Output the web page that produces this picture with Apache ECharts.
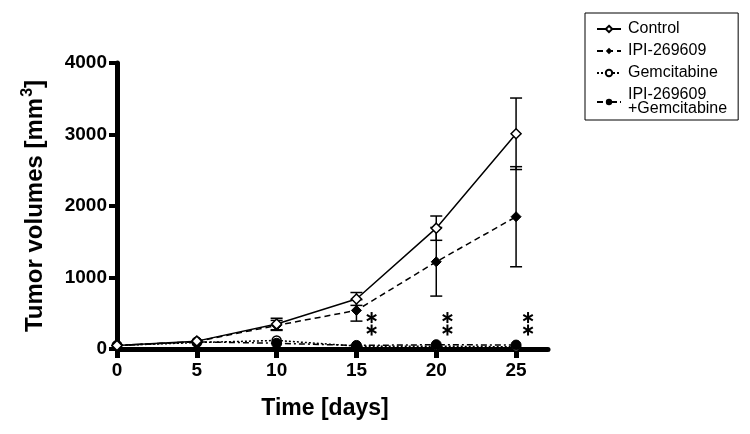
<!DOCTYPE html>
<html>
<head>
<meta charset="utf-8">
<script src="https://cdn.jsdelivr.net/npm/echarts@6/dist/echarts.min.js"></script>
<style>html,body{margin:0;padding:0;background:#fff}#main{width:750px;height:434px}</style>
</head>
<body>
<div id="main"></div>
<script>
// days
var days = [0, 5, 10, 15, 20, 25];
// mean tumour volume per group
var control = [50, 110, 350, 700, 1690, 3010];
var controlErr = [0, 0, 80, 90, 170, 500];
var ipi = [50, 105, 330, 540, 1220, 1850];
var ipiErr = [0, 0, 70, 150, 480, 700];
var gem = [50, 90, 120, 40, 40, 30];
var combo = [50, 100, 80, 50, 60, 55];
// significance marks
var starDays = [15.95, 20.7, 25.75];
var starRows = [440, 265];

var F = 'Arial, "Liberation Sans", sans-serif';

function pairs(ys) {
    return days.map(function (d, i) { return [d, ys[i]]; });
}
function errData(ys, es) {
    return days.map(function (d, i) { return [d, ys[i] - es[i], ys[i] + es[i]]; }).filter(function (r) { return r[2] > r[1]; });
}
function errSeries(ys, es) {
    return {
        type: 'custom',
        data: errData(ys, es),
        z: 1,
        silent: true,
        renderItem: function (params, api) {
            var lo = api.coord([api.value(0), api.value(1)]);
            var hi = api.coord([api.value(0), api.value(2)]);
            var w = 6;
            var st = { stroke: '#000', lineWidth: 1.5 };
            return {
                type: 'group',
                children: [
                    { type: 'line', shape: { x1: lo[0], y1: lo[1], x2: hi[0], y2: hi[1] }, style: st },
                    { type: 'line', shape: { x1: lo[0] - w, y1: lo[1], x2: lo[0] + w, y2: lo[1] }, style: st },
                    { type: 'line', shape: { x1: hi[0] - w, y1: hi[1], x2: hi[0] + w, y2: hi[1] }, style: st }
                ]
            };
        }
    };
}

var stars = [];
starDays.forEach(function (d) { starRows.forEach(function (r) { stars.push([d, r]); }); });

var chart = echarts.init(document.getElementById('main'));
chart.setOption({
    animation: false,
    backgroundColor: '#fff',
    grid: { left: 117, right: 202, top: 63, bottom: 85 },
    legend: {
        orient: 'vertical',
        left: 585,
        top: 13,
        padding: [8, 11, 3, 11],
        itemGap: 6,
        itemWidth: 24,
        itemHeight: 8,
        borderColor: '#000',
        borderWidth: 1,
        textStyle: { fontFamily: F, fontSize: 16, color: '#000', lineHeight: 14, padding: [0, 0, 0, 2] },
        data: ['Control', 'IPI-269609', 'Gemcitabine', 'IPI-269609\n+Gemcitabine']
    },
    xAxis: {
        type: 'value',
        min: 0, max: 27, interval: 5,
        name: 'Time [days]',
        nameLocation: 'middle',
        nameGap: 48,
        nameTextStyle: { fontFamily: F, fontSize: 23, fontWeight: 'bold', color: '#000', padding: [0, 0, 0, -15] },
        axisLine: { lineStyle: { color: '#000', width: 5 } },
        axisTick: { length: 9, lineStyle: { width: 5, color: '#000' }, customValues: days },
        axisLabel: { fontFamily: F, fontSize: 19, fontWeight: 'bold', color: '#000', margin: 12, customValues: days },
        splitLine: { show: false }
    },
    yAxis: {
        type: 'value',
        min: 0, max: 4000, interval: 1000,
        name: 'Tumor volumes [mm{s|3}]',
        nameLocation: 'middle',
        nameGap: 67,
        nameTextStyle: {
            fontFamily: F, fontSize: 24, fontWeight: 'bold', color: '#000',
            rich: { s: { fontFamily: F, fontSize: 16, fontWeight: 'bold', verticalAlign: 'top', padding: [0, 0, 14, 1] } }
        },
        axisLine: { lineStyle: { color: '#000', width: 5 } },
        axisTick: { length: 8, lineStyle: { width: 4, color: '#000' } },
        axisLabel: { fontFamily: F, fontSize: 19, fontWeight: 'bold', color: '#000', margin: 10, formatter: function (v) { return String(v); } },
        splitLine: { show: false }
    },
    series: [
        errSeries(control, controlErr),
        errSeries(ipi, ipiErr),
        {
            name: 'Control', type: 'line', data: pairs(control), z: 5,
            symbol: 'diamond', symbolSize: 10,
            lineStyle: { color: '#000', width: 1.5, type: 'solid' },
            itemStyle: { color: '#fff', borderColor: '#000', borderWidth: 1.5 }
        },
        {
            name: 'IPI-269609', type: 'line', data: pairs(ipi), z: 4,
            symbol: 'diamond', symbolSize: 10,
            lineStyle: { color: '#000', width: 1.5, type: [6, 4] },
            itemStyle: { color: '#000', borderColor: '#000' }
        },
        {
            name: 'Gemcitabine', type: 'line', data: pairs(gem), z: 3,
            symbol: 'circle', symbolSize: 9,
            lineStyle: { color: '#000', width: 1.5, type: [2, 2] },
            itemStyle: { color: '#fff', borderColor: '#000', borderWidth: 1.5 }
        },
        {
            name: 'IPI-269609\n+Gemcitabine', type: 'line', data: pairs(combo), z: 4,
            symbol: 'circle', symbolSize: 10,
            lineStyle: { color: '#000', width: 1.5, type: [6, 3, 2, 3] },
            itemStyle: { color: '#000', borderColor: '#000' }
        },
        {
            // asterisks drawn as three crossing strokes
            type: 'custom', data: stars, silent: true, z: 6,
            renderItem: function (params, api) {
                var c = api.coord([api.value(0), api.value(1)]);
                var r = 5.5;
                var kids = [90, 30, 150].map(function (a) {
                    var t = a * Math.PI / 180;
                    var dx = r * Math.cos(t), dy = r * Math.sin(t);
                    return { type: 'line', shape: { x1: c[0] - dx, y1: c[1] - dy, x2: c[0] + dx, y2: c[1] + dy }, style: { stroke: '#000', lineWidth: 2 } };
                });
                return { type: 'group', children: kids };
            }
        }
    ]
});
</script>
</body>
</html>
